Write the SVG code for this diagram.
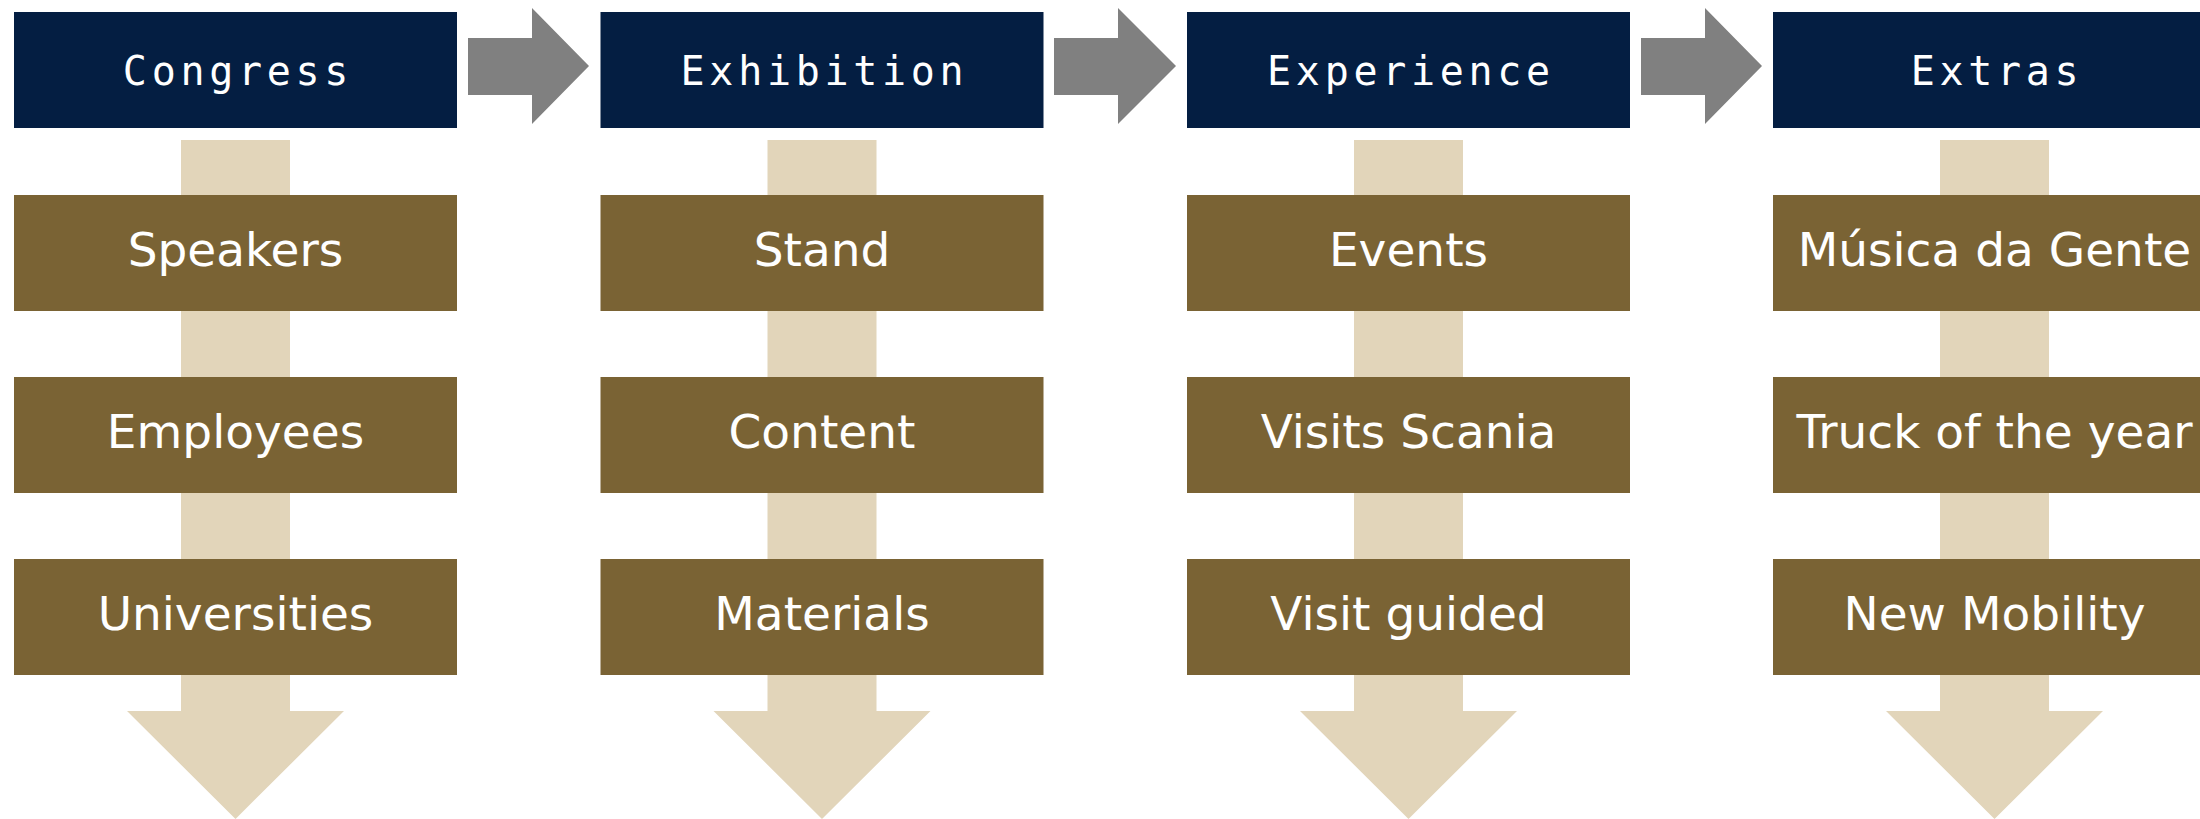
<svg xmlns="http://www.w3.org/2000/svg" width="2200" height="819" viewBox="0 0 2200 819">
<style>
.hdr{fill:#041E42}
.box{fill:#7A6334}
.flow{fill:#E2D5BA}
.step{fill:#808080}
.ht{font-family:"DejaVu Sans Mono","Liberation Mono",monospace;font-size:40px;letter-spacing:4.7px;fill:#FFFFFF;text-anchor:middle}
.bt{font-family:"DejaVu Sans","Liberation Sans",sans-serif;font-size:47px;fill:#FFFFFF;text-anchor:middle}
</style>
<rect width="2200" height="819" fill="#FFFFFF"/>
<g id="connectors">
  <polygon class="flow" points="181,140 290,140 290,711 344,711 235.5,819 127,711 181,711"/>
  <polygon class="flow" points="767.5,140 876.5,140 876.5,711 930.5,711 822,819 713.5,711 767.5,711"/>
  <polygon class="flow" points="1354,140 1463,140 1463,711 1517,711 1408.5,819 1300,711 1354,711"/>
  <polygon class="flow" points="1940,140 2049,140 2049,711 2103,711 1994.5,819 1886,711 1940,711"/>
  <polygon class="step" points="468,38 532,38 532,8 589,66 532,124 532,95 468,95"/>
  <polygon class="step" points="1054,38 1118,38 1118,8 1176,66 1118,124 1118,95 1054,95"/>
  <polygon class="step" points="1641,38 1705,38 1705,8 1762,66 1705,124 1705,95 1641,95"/>
</g>
<g id="congress">
  <rect class="hdr" x="14" y="12" width="443" height="116"/>
  <text class="ht" x="238" y="85">Congress</text>
</g>
<g id="exhibition">
  <rect class="hdr" x="600.5" y="12" width="443" height="116"/>
  <text class="ht" x="824.5" y="85">Exhibition</text>
</g>
<g id="experience">
  <rect class="hdr" x="1187" y="12" width="443" height="116"/>
  <text class="ht" x="1411" y="85">Experience</text>
</g>
<g id="extras">
  <rect class="hdr" x="1773" y="12" width="443" height="116"/>
  <text class="ht" x="1997" y="85">Extras</text>
</g>
<g id="speakers">
  <rect class="box" x="14" y="195" width="443" height="116"/>
  <text class="bt" x="235.5" y="266">Speakers</text>
</g>
<g id="employees">
  <rect class="box" x="14" y="377" width="443" height="116"/>
  <text class="bt" x="235.5" y="448">Employees</text>
</g>
<g id="universities">
  <rect class="box" x="14" y="559" width="443" height="116"/>
  <text class="bt" x="235.5" y="630">Universities</text>
</g>
<g id="stand">
  <rect class="box" x="600.5" y="195" width="443" height="116"/>
  <text class="bt" x="822" y="266">Stand</text>
</g>
<g id="content">
  <rect class="box" x="600.5" y="377" width="443" height="116"/>
  <text class="bt" x="822" y="448">Content</text>
</g>
<g id="materials">
  <rect class="box" x="600.5" y="559" width="443" height="116"/>
  <text class="bt" x="822" y="630">Materials</text>
</g>
<g id="events">
  <rect class="box" x="1187" y="195" width="443" height="116"/>
  <text class="bt" x="1408.5" y="266">Events</text>
</g>
<g id="visits-scania">
  <rect class="box" x="1187" y="377" width="443" height="116"/>
  <text class="bt" x="1408.5" y="448">Visits Scania</text>
</g>
<g id="visit-guided">
  <rect class="box" x="1187" y="559" width="443" height="116"/>
  <text class="bt" x="1408.5" y="630">Visit guided</text>
</g>
<g id="musica-da-gente">
  <rect class="box" x="1773" y="195" width="443" height="116"/>
  <text class="bt" x="1994.5" y="266">Música da Gente</text>
</g>
<g id="truck-of-the-year">
  <rect class="box" x="1773" y="377" width="443" height="116"/>
  <text class="bt" x="1994.5" y="448">Truck of the year</text>
</g>
<g id="new-mobility">
  <rect class="box" x="1773" y="559" width="443" height="116"/>
  <text class="bt" x="1994.5" y="630">New Mobility</text>
</g>
</svg>
